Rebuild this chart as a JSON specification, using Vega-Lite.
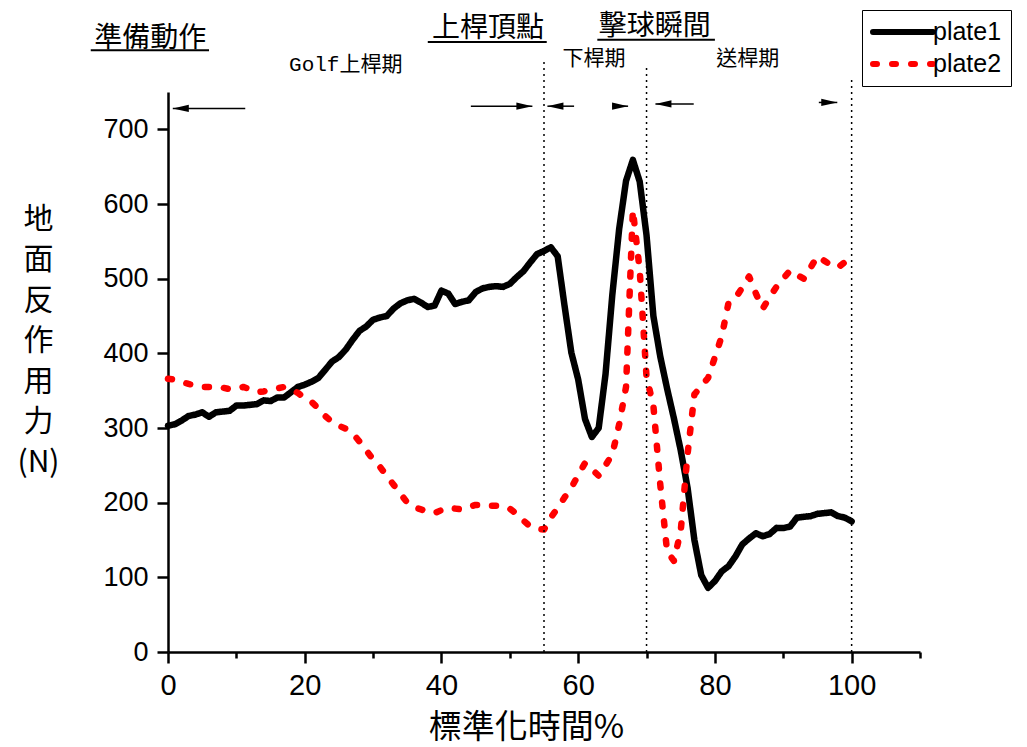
{
  "$schema": "https://vega.github.io/schema/vega-lite/v6.json",
  "width": 752,
  "height": 560,
  "autosize": {"type": "none"},
  "padding": {"left": 168, "top": 92, "right": 107, "bottom": 95},
  "background": "white",
  "config": {
    "view": {"stroke": null},
    "font": "Liberation Sans",
    "axis": {
      "grid": false,
      "domainColor": "black",
      "domainWidth": 2.5,
      "tickColor": "black",
      "tickWidth": 2.5,
      "labelColor": "black",
      "labelFont": "Liberation Sans",
      "titleColor": "black",
      "titleFont": "Noto Sans CJK TC",
      "titleFontWeight": "normal"
    },
    "legend": {
      "orient": "none",
      "legendX": 694,
      "legendY": -82,
      "strokeColor": "black",
      "padding": 9,
      "symbolType": "M-3,0L3,0",
      "symbolSize": 400,
      "symbolStrokeWidth": 6,
      "labelFont": "Liberation Sans",
      "labelFontSize": 25,
      "labelColor": "black",
      "labelOffset": 36,
      "rowPadding": 6
    }
  },
  "datasets": {
    "force": [
      {"t":0,"N":303,"s":"plate1"},{"t":1,"N":305,"s":"plate1"},{"t":2,"N":310,"s":"plate1"},{"t":3,"N":316,"s":"plate1"},{"t":4,"N":318,"s":"plate1"},
      {"t":5,"N":321,"s":"plate1"},{"t":6,"N":315,"s":"plate1"},{"t":7,"N":321,"s":"plate1"},{"t":8,"N":322,"s":"plate1"},{"t":9,"N":323,"s":"plate1"},
      {"t":10,"N":330,"s":"plate1"},{"t":11,"N":330,"s":"plate1"},{"t":12,"N":331,"s":"plate1"},{"t":13,"N":332,"s":"plate1"},{"t":14,"N":337,"s":"plate1"},
      {"t":15,"N":336,"s":"plate1"},{"t":16,"N":341,"s":"plate1"},{"t":17,"N":341,"s":"plate1"},{"t":18,"N":348,"s":"plate1"},{"t":19,"N":355,"s":"plate1"},
      {"t":20,"N":358,"s":"plate1"},{"t":21,"N":362,"s":"plate1"},{"t":22,"N":367,"s":"plate1"},{"t":23,"N":378,"s":"plate1"},{"t":24,"N":389,"s":"plate1"},
      {"t":25,"N":395,"s":"plate1"},{"t":26,"N":405,"s":"plate1"},{"t":27,"N":418,"s":"plate1"},{"t":28,"N":430,"s":"plate1"},{"t":29,"N":436,"s":"plate1"},
      {"t":30,"N":445,"s":"plate1"},{"t":31,"N":448,"s":"plate1"},{"t":32,"N":450,"s":"plate1"},{"t":33,"N":460,"s":"plate1"},{"t":34,"N":467,"s":"plate1"},
      {"t":35,"N":471,"s":"plate1"},{"t":36,"N":473,"s":"plate1"},{"t":37,"N":468,"s":"plate1"},{"t":38,"N":462,"s":"plate1"},{"t":39,"N":464,"s":"plate1"},
      {"t":40,"N":484,"s":"plate1"},{"t":41,"N":480,"s":"plate1"},{"t":42,"N":466,"s":"plate1"},{"t":43,"N":469,"s":"plate1"},{"t":44,"N":471,"s":"plate1"},
      {"t":45,"N":482,"s":"plate1"},{"t":46,"N":487,"s":"plate1"},{"t":47,"N":489,"s":"plate1"},{"t":48,"N":490,"s":"plate1"},{"t":49,"N":489,"s":"plate1"},
      {"t":50,"N":493,"s":"plate1"},{"t":51,"N":502,"s":"plate1"},{"t":52,"N":510,"s":"plate1"},{"t":53,"N":522,"s":"plate1"},{"t":54,"N":533,"s":"plate1"},
      {"t":55,"N":537,"s":"plate1"},{"t":56,"N":542,"s":"plate1"},{"t":57,"N":530,"s":"plate1"},{"t":58,"N":464,"s":"plate1"},{"t":59,"N":401,"s":"plate1"},
      {"t":60,"N":365,"s":"plate1"},{"t":61,"N":312,"s":"plate1"},{"t":62,"N":288,"s":"plate1"},{"t":63,"N":300,"s":"plate1"},{"t":64,"N":372,"s":"plate1"},
      {"t":65,"N":479,"s":"plate1"},{"t":66,"N":567,"s":"plate1"},{"t":67,"N":631,"s":"plate1"},{"t":68,"N":659,"s":"plate1"},{"t":69,"N":630,"s":"plate1"},
      {"t":70,"N":558,"s":"plate1"},{"t":71,"N":450,"s":"plate1"},{"t":72,"N":396,"s":"plate1"},{"t":73,"N":353,"s":"plate1"},{"t":74,"N":313,"s":"plate1"},
      {"t":75,"N":270,"s":"plate1"},{"t":76,"N":220,"s":"plate1"},{"t":77,"N":150,"s":"plate1"},{"t":78,"N":103,"s":"plate1"},{"t":79,"N":86,"s":"plate1"},
      {"t":80,"N":95,"s":"plate1"},{"t":81,"N":108,"s":"plate1"},{"t":82,"N":115,"s":"plate1"},{"t":83,"N":128,"s":"plate1"},{"t":84,"N":144,"s":"plate1"},
      {"t":85,"N":152,"s":"plate1"},{"t":86,"N":159,"s":"plate1"},{"t":87,"N":155,"s":"plate1"},{"t":88,"N":158,"s":"plate1"},{"t":89,"N":166,"s":"plate1"},
      {"t":90,"N":166,"s":"plate1"},{"t":91,"N":168,"s":"plate1"},{"t":92,"N":180,"s":"plate1"},{"t":93,"N":181,"s":"plate1"},{"t":94,"N":182,"s":"plate1"},
      {"t":95,"N":185,"s":"plate1"},{"t":96,"N":186,"s":"plate1"},{"t":97,"N":187,"s":"plate1"},{"t":98,"N":182,"s":"plate1"},{"t":99,"N":180,"s":"plate1"},
      {"t":100,"N":175,"s":"plate1"},
      {"t":0,"N":366,"s":"plate2"},{"t":1,"N":365,"s":"plate2"},{"t":2,"N":362,"s":"plate2"},{"t":3,"N":359,"s":"plate2"},{"t":4,"N":357,"s":"plate2"},
      {"t":5,"N":355,"s":"plate2"},{"t":6,"N":355,"s":"plate2"},{"t":7,"N":355,"s":"plate2"},{"t":8,"N":354,"s":"plate2"},{"t":9,"N":352,"s":"plate2"},
      {"t":10,"N":353,"s":"plate2"},{"t":11,"N":355,"s":"plate2"},{"t":12,"N":352,"s":"plate2"},{"t":13,"N":348,"s":"plate2"},{"t":14,"N":349,"s":"plate2"},
      {"t":15,"N":351,"s":"plate2"},{"t":16,"N":353,"s":"plate2"},{"t":17,"N":355,"s":"plate2"},{"t":18,"N":352,"s":"plate2"},{"t":19,"N":347,"s":"plate2"},
      {"t":20,"N":340,"s":"plate2"},{"t":21,"N":335,"s":"plate2"},{"t":22,"N":326,"s":"plate2"},{"t":23,"N":316,"s":"plate2"},{"t":24,"N":308,"s":"plate2"},
      {"t":25,"N":303,"s":"plate2"},{"t":26,"N":299,"s":"plate2"},{"t":27,"N":293,"s":"plate2"},{"t":28,"N":282,"s":"plate2"},{"t":29,"N":270,"s":"plate2"},
      {"t":30,"N":258,"s":"plate2"},{"t":31,"N":248,"s":"plate2"},{"t":32,"N":236,"s":"plate2"},{"t":33,"N":224,"s":"plate2"},{"t":34,"N":212,"s":"plate2"},
      {"t":35,"N":200,"s":"plate2"},{"t":36,"N":194,"s":"plate2"},{"t":37,"N":191,"s":"plate2"},{"t":38,"N":188,"s":"plate2"},{"t":39,"N":186,"s":"plate2"},
      {"t":40,"N":190,"s":"plate2"},{"t":41,"N":193,"s":"plate2"},{"t":42,"N":192,"s":"plate2"},{"t":43,"N":191,"s":"plate2"},{"t":44,"N":194,"s":"plate2"},
      {"t":45,"N":197,"s":"plate2"},{"t":46,"N":197,"s":"plate2"},{"t":47,"N":196,"s":"plate2"},{"t":48,"N":196,"s":"plate2"},{"t":49,"N":195,"s":"plate2"},
      {"t":50,"N":192,"s":"plate2"},{"t":51,"N":185,"s":"plate2"},{"t":52,"N":176,"s":"plate2"},{"t":53,"N":168,"s":"plate2"},{"t":54,"N":165,"s":"plate2"},
      {"t":55,"N":164,"s":"plate2"},{"t":56,"N":180,"s":"plate2"},{"t":57,"N":193,"s":"plate2"},{"t":58,"N":207,"s":"plate2"},{"t":59,"N":220,"s":"plate2"},
      {"t":60,"N":237,"s":"plate2"},{"t":61,"N":253,"s":"plate2"},{"t":62,"N":245,"s":"plate2"},{"t":63,"N":236,"s":"plate2"},{"t":64,"N":250,"s":"plate2"},
      {"t":65,"N":265,"s":"plate2"},{"t":66,"N":305,"s":"plate2"},{"t":67,"N":355,"s":"plate2"},{"t":68,"N":592,"s":"plate2"},{"t":69,"N":511,"s":"plate2"},
      {"t":70,"N":368,"s":"plate2"},{"t":71,"N":330,"s":"plate2"},{"t":72,"N":225,"s":"plate2"},{"t":73,"N":135,"s":"plate2"},{"t":74,"N":122,"s":"plate2"},
      {"t":75,"N":162,"s":"plate2"},{"t":76,"N":265,"s":"plate2"},{"t":77,"N":345,"s":"plate2"},{"t":78,"N":356,"s":"plate2"},{"t":79,"N":367,"s":"plate2"},
      {"t":80,"N":395,"s":"plate2"},{"t":81,"N":423,"s":"plate2"},{"t":82,"N":468,"s":"plate2"},{"t":83,"N":474,"s":"plate2"},{"t":84,"N":488,"s":"plate2"},
      {"t":85,"N":503,"s":"plate2"},{"t":86,"N":480,"s":"plate2"},{"t":87,"N":460,"s":"plate2"},{"t":88,"N":475,"s":"plate2"},{"t":89,"N":489,"s":"plate2"},
      {"t":90,"N":500,"s":"plate2"},{"t":91,"N":511,"s":"plate2"},{"t":92,"N":505,"s":"plate2"},{"t":93,"N":500,"s":"plate2"},{"t":94,"N":515,"s":"plate2"},
      {"t":95,"N":530,"s":"plate2"},{"t":96,"N":524,"s":"plate2"},{"t":97,"N":518,"s":"plate2"},{"t":98,"N":515,"s":"plate2"},{"t":99,"N":522,"s":"plate2"},
      {"t":100,"N":526,"s":"plate2"}
    ],
    "markers": [
      {"t": 55, "lo": 0, "hi": 793},
      {"t": 70, "lo": 0, "hi": 786},
      {"t": 100, "lo": 0, "hi": 769}
    ],
    "arrows": [
      {"tail": 11.3, "head": 0.7, "yv": 728, "dir": "left"},
      {"tail": 44.3, "head": 53.3, "yv": 731, "dir": "right"},
      {"tail": 59.4, "head": 55.5, "yv": 731, "dir": "left"},
      {"tail": 65.0, "head": 67.3, "yv": 731, "dir": "right"},
      {"tail": 76.9, "head": 71.3, "yv": 734, "dir": "left"},
      {"tail": 95.2, "head": 97.9, "yv": 736, "dir": "right"}
    ],
    "labels": [
      {"txt": "準備動作", "t": -2.6, "yv": 821, "fs": 28},
      {"txt": "上桿頂點", "t": 46.8, "yv": 834, "fs": 28},
      {"txt": "擊球瞬間", "t": 71.2, "yv": 837, "fs": 28},
      {"txt": "Golf上桿期", "t": 26.0, "yv": 786, "fs": 21},
      {"txt": "下桿期", "t": 62.3, "yv": 794, "fs": 21},
      {"txt": "送桿期", "t": 84.8, "yv": 794, "fs": 21}
    ],
    "underlines": [
      {"t0": -11.3, "t1": 6.0, "yv": 806},
      {"t0": 38.0, "t1": 55.4, "yv": 817},
      {"t0": 62.8, "t1": 80.0, "yv": 820}
    ]
  },
  "layer": [
    {
      "data": {"name": "force"},
      "mark": {"type": "line", "strokeWidth": 6.5, "strokeCap": "round", "strokeJoin": "round"},
      "encoding": {
        "x": {
          "field": "t", "type": "quantitative",
          "scale": {"domain": [0, 110], "nice": false},
          "axis": {
            "values": [0, 10, 20, 30, 40, 50, 60, 70, 80, 90, 100, 110],
            "labelExpr": "datum.value % 20 === 0 && datum.value <= 100 ? datum.label : ''",
            "tickSize": {"condition": {"test": "datum.value % 20 === 0", "value": 11}, "value": 6},
            "labelFontSize": 29,
            "labelPadding": 8,
            "labelFlush": false,
            "title": "標準化時間%",
            "titleFontSize": 33,
            "titleX": 358,
            "titleY": 75,
            "titleAlign": "center",
            "titleBaseline": "middle"
          }
        },
        "y": {
          "field": "N", "type": "quantitative",
          "scale": {"domain": [0, 750], "nice": false},
          "axis": {
            "values": [0, 50, 100, 150, 200, 250, 300, 350, 400, 450, 500, 550, 600, 650, 700, 750],
            "labelExpr": "datum.value % 100 === 0 && datum.value <= 700 ? datum.label : ''",
            "tickSize": {"condition": {"test": "datum.value % 100 === 0", "value": 11}, "value": 7},
            "labelFontSize": 27,
            "labelPadding": 9,
            "labelFlush": false,
            "title": ["地", "面", "反", "作", "用", "力", "(N)"],
            "titleFontSize": 30,
            "titleLineHeight": 40.5,
            "titleAngle": 0,
            "titleX": -130,
            "titleY": 127,
            "titleAlign": "center",
            "titleBaseline": "middle"
          }
        },
        "color": {
          "field": "s", "type": "nominal",
          "scale": {"domain": ["plate1", "plate2"], "range": ["#000000", "#ff0000"]},
          "legend": {
            "title": null,
            "encode": {
              "symbols": {
                "update": {
                  "x": {"value": 32},
                  "strokeCap": {"value": "round"}
                }
              }
            }
          }
        },
        "strokeDash": {
          "field": "s", "type": "nominal",
          "scale": {"domain": ["plate1", "plate2"], "range": [[1, 0], [4, 15]]},
          "legend": null
        }
      }
    },
    {
      "data": {"name": "markers"},
      "mark": {"type": "rule", "color": "black", "strokeWidth": 1.5, "strokeDash": [2, 4]},
      "encoding": {
        "x": {"field": "t", "type": "quantitative", "scale": {"domain": [0, 110], "nice": false}},
        "y": {"field": "lo", "type": "quantitative", "scale": {"domain": [0, 750], "nice": false}},
        "y2": {"field": "hi"}
      }
    },
    {
      "data": {"name": "arrows"},
      "mark": {"type": "rule", "color": "black", "strokeWidth": 1.5},
      "encoding": {
        "x": {"field": "tail", "type": "quantitative", "scale": {"domain": [0, 110], "nice": false}},
        "x2": {"field": "head"},
        "y": {"field": "yv", "type": "quantitative", "scale": {"domain": [0, 750], "nice": false}}
      }
    },
    {
      "data": {"name": "arrows"},
      "mark": {"type": "point", "filled": true, "color": "black", "opacity": 1, "size": 256, "strokeWidth": 0},
      "encoding": {
        "x": {"field": "head", "type": "quantitative", "scale": {"domain": [0, 110], "nice": false}},
        "y": {"field": "yv", "type": "quantitative", "scale": {"domain": [0, 750], "nice": false}},
        "shape": {
          "field": "dir", "type": "nominal",
          "scale": {"domain": ["left", "right"], "range": ["M0,0L2,-0.45L2,0.45Z", "M0,0L-2,-0.45L-2,0.45Z"]},
          "legend": null
        }
      }
    },
    {
      "data": {"name": "underlines"},
      "mark": {"type": "rule", "color": "black", "strokeWidth": 2},
      "encoding": {
        "x": {"field": "t0", "type": "quantitative", "scale": {"domain": [0, 110], "nice": false}},
        "x2": {"field": "t1"},
        "y": {"field": "yv", "type": "quantitative", "scale": {"domain": [0, 750], "nice": false}}
      }
    },
    {
      "data": {"name": "labels"},
      "mark": {"type": "text", "color": "black", "font": "Liberation Mono, Noto Sans CJK TC", "align": "center", "baseline": "middle"},
      "encoding": {
        "x": {"field": "t", "type": "quantitative", "scale": {"domain": [0, 110], "nice": false}},
        "y": {"field": "yv", "type": "quantitative", "scale": {"domain": [0, 750], "nice": false}},
        "text": {"field": "txt"},
        "size": {"field": "fs", "type": "quantitative", "scale": null}
      }
    }
  ]
}
